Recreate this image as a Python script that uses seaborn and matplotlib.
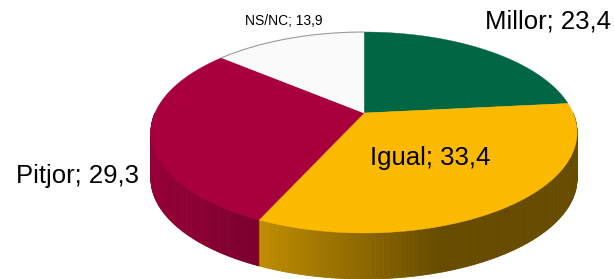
import numpy as np
import matplotlib
matplotlib.use("Agg")
import matplotlib.pyplot as plt
import seaborn as sns
from matplotlib.patches import Polygon
from matplotlib.collections import PolyCollection

# ---- data ----
categories = ["Millor", "Igual", "Pitjor", "NS/NC"]
values = [23.4, 33.4, 29.3, 13.9]
labels = ["Millor; 23,4", "Igual; 33,4", "Pitjor; 29,3", "NS/NC; 13,9"]

# ---- style ----
top_colors = ["#006644", "#FBBA00", "#A8003C", "#FAFAFA"]
side_light = [0.75, 0.76, 0.89, 0.85]
side_dark = [0.55, 0.41, 0.73, 0.70]
label_pos = [(548, 28), (430, 165), (77, 183), (284, 25)]
label_size = [18.5, 18.5, 18.5, 10]

sns.set_theme(style="white")
plt.rcParams["font.family"] = ["Liberation Sans", "DejaVu Sans"]

fig = plt.figure(figsize=(6.15, 2.79), dpi=100)
ax = fig.add_axes([0, 0, 1, 1])
ax.set_xlim(0, 615)
ax.set_ylim(279, 0)
ax.axis("off")

# perspective projection of the pie disc
CX, CY, A, B, K, DEPTH = 364.0, 113.0, 209.0, 96.7, 0.194, 46.0


def proj(theta, r=1.0):
    x = r * np.cos(theta)
    y = r * np.sin(theta)
    d = 1 + K * y
    return CX + A * x / d, CY - B * y / d


fracs = np.array(values) / np.sum(values)
starts = np.pi / 2 - 2 * np.pi * np.concatenate([[0], np.cumsum(fracs)[:-1]])
ends = starts - 2 * np.pi * fracs


def to_rgb(c):
    return np.array(matplotlib.colors.to_rgb(c))


# side walls (visible near half: theta in [-pi, 0])
for i in range(len(values)):
    s, e = starts[i], ends[i]
    # normalise to the near half range
    hi, lo = s, e
    segs = []
    for shift in (0, -2 * np.pi, 2 * np.pi):
        h = min(hi + shift, 0.0)
        l = max(lo + shift, -np.pi)
        if h > l:
            segs.append((h, l))
    base = to_rgb(top_colors[i])
    for h, l in segs:
        th = np.linspace(h, l, 120)
        xs, ys = proj(th)
        x0, x1 = xs.min(), xs.max()
        span = max(min(x1 - x0, 180.0), 1.0)
        polys, cols = [], []
        for j in range(len(th) - 1):
            quad = [(xs[j], ys[j]), (xs[j + 1], ys[j + 1]),
                    (xs[j + 1], ys[j + 1] + DEPTH), (xs[j], ys[j] + DEPTH)]
            xm = 0.5 * (xs[j] + xs[j + 1])
            t = np.clip((xm - x0) / span, 0, 1)
            f = side_light[i] - (side_light[i] - side_dark[i]) * t
            polys.append(quad)
            cols.append(np.clip(base * f, 0, 1))
        pc = PolyCollection(polys, facecolors=cols, edgecolors=cols,
                            linewidths=0.6, zorder=2)
        ax.add_collection(pc)

# top faces
for i in range(len(values)):
    th = np.linspace(starts[i], ends[i], 200)
    xs, ys = proj(th)
    pts = [(CX, CY)] + list(zip(xs, ys))
    ax.add_patch(Polygon(pts, closed=True, facecolor=top_colors[i],
                         edgecolor=top_colors[i], linewidth=0.3, zorder=3))
    if categories[i] == "NS/NC":
        ax.plot(xs, ys, color="#9a9a9a", lw=0.8, zorder=4)

# labels
for i, lab in enumerate(labels):
    x, y = label_pos[i]
    ax.text(x, y, lab, fontsize=label_size[i], ha="center", va="baseline",
            color="black", zorder=5)

fig.savefig("out.png", dpi=100)
